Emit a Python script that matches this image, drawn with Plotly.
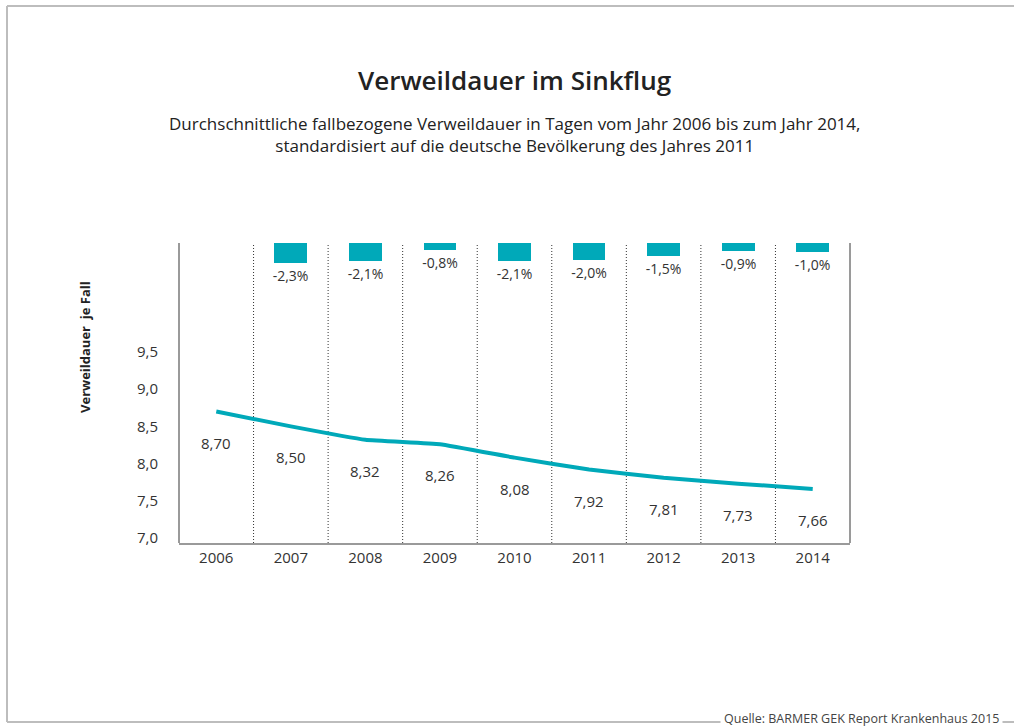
import plotly.graph_objects as go

# ---- data ----
years = [2006, 2007, 2008, 2009, 2010, 2011, 2012, 2013, 2014]
verweildauer = [8.70, 8.50, 8.32, 8.26, 8.08, 7.92, 7.81, 7.73, 7.66]
change_years = [2007, 2008, 2009, 2010, 2011, 2012, 2013, 2014]
change_pct = [-2.3, -2.1, -0.8, -2.1, -2.0, -1.5, -0.9, -1.0]
y_ticks = [7.0, 7.5, 8.0, 8.5, 9.0, 9.5]

title = "Verweildauer im Sinkflug"
subtitle = ("Durchschnittliche fallbezogene Verweildauer in Tagen vom Jahr 2006 bis zum Jahr 2014,"
            "<br>standardisiert auf die deutsche Bevölkerung des Jahres 2011")
y_title = "Verweildauer  je Fall"
source = "Quelle: BARMER GEK Report Krankenhaus 2015"

TEAL = "#00a9b9"
TXT = "#333333"
FONT = "Open Sans"

W, H = 1014, 728
L, R, T, B = 179, 164, 243, 185
PW, PH = W - L - R, H - T - B


def px_x(p):
    return (p - L) / PW


def px_y(p):
    return (H - B - p) / PH


def de(v, d):
    return f"{v:.{d}f}".replace(".", ",")


fig = go.Figure()

fig.add_trace(go.Scatter(
    x=years, y=verweildauer, mode="lines",
    line=dict(color=TEAL, width=4, shape="spline", smoothing=0.3),
    hoverinfo="skip", showlegend=False,
))

fig.add_trace(go.Bar(
    x=change_years, y=change_pct, yaxis="y2",
    marker=dict(color=TEAL, line=dict(width=0)),
    width=0.44,
    text=[de(v, 1) + "%" for v in change_pct],
    textposition="outside", constraintext="none", cliponaxis=False,
    textfont=dict(family=FONT, size=14, color=TXT),
    hoverinfo="skip", showlegend=False,
))

# value labels below the line
for xv, yv in zip(years, verweildauer):
    fig.add_annotation(x=xv, y=yv, text=de(yv, 2), showarrow=False,
                       yshift=-31, font=dict(family=FONT, size=15, color=TXT))

shapes = []
# dotted separators between years
for a, b in zip(years[:-1], years[1:]):
    shapes.append(dict(type="line", xref="x", yref="paper", x0=(a + b) / 2, x1=(a + b) / 2,
                       y0=0, y1=1, line=dict(color="#333333", width=1, dash="1px,2px"), layer="below"))
# plot frame left / right
for xp in (0, 1):
    shapes.append(dict(type="line", xref="paper", yref="paper", x0=xp, x1=xp, y0=0, y1=1,
                       line=dict(color="#9a9a9a", width=2)))
# outer page frame
fc = "#bdbdbd"
shapes.append(dict(type="line", xref="paper", yref="paper", x0=px_x(7), x1=px_x(1014),
                   y0=px_y(6), y1=px_y(6), line=dict(color=fc, width=2)))
shapes.append(dict(type="line", xref="paper", yref="paper", x0=px_x(7), x1=px_x(7),
                   y0=px_y(6), y1=px_y(722), line=dict(color=fc, width=2)))
shapes.append(dict(type="line", xref="paper", yref="paper", x0=px_x(7), x1=px_x(1014),
                   y0=px_y(722), y1=px_y(722), line=dict(color=fc, width=2)))
fig.update_layout(shapes=shapes)

# titles
fig.add_annotation(xref="paper", yref="paper", x=0.5, y=px_y(80), text=title, showarrow=False,
                   font=dict(family=FONT, size=26, color="#222222", weight=600),
                   xanchor="center", yanchor="middle")
fig.add_annotation(xref="paper", yref="paper", x=0.5, y=px_y(134), text=subtitle, showarrow=False,
                   font=dict(family=FONT, size=17, color="#222222"),
                   xanchor="center", yanchor="middle")
fig.add_annotation(xref="paper", yref="paper", x=px_x(85), y=px_y(347), text="<b>" + y_title + "</b>",
                   showarrow=False, textangle=-90,
                   font=dict(family=FONT, size=13, color="#222222"),
                   xanchor="center", yanchor="middle")
fig.add_annotation(xref="paper", yref="paper", x=px_x(1003), y=px_y(718), text=source,
                   showarrow=False, bgcolor="white", borderpad=3,
                   font=dict(family=FONT, size=12.5, color="#444444"),
                   xanchor="right", yanchor="middle")

y_lo = 7.0 - 5 / 74.4
y_hi = 7.0 + 295 / 74.4

fig.update_layout(
    width=W, height=H,
    margin=dict(l=L, r=R, t=T, b=B, autoexpand=False),
    paper_bgcolor="white", plot_bgcolor="white",
    separators=",.",
    font=dict(family=FONT, color=TXT),
    xaxis=dict(range=[years[0] - 0.5, years[-1] + 0.5], tickvals=years,
               ticktext=[str(y) for y in years], showgrid=False, zeroline=False,
               showline=True, linecolor="#9a9a9a", linewidth=2, ticks="",
               tickfont=dict(family=FONT, size=15, color=TXT), fixedrange=True),
    yaxis=dict(range=[y_lo, y_hi], tickvals=y_ticks, tickformat=".1f",
               showgrid=False, zeroline=False, showline=False, ticks="",
               ticklabelstandoff=20,
               tickfont=dict(family=FONT, size=15, color=TXT), fixedrange=True),
    yaxis2=dict(range=[-300 / 8.5, 0], overlaying="y", visible=False, fixedrange=True),
    bargap=0,
)

fig.write_html("out.html", config={"displayModeBar": False},
               post_script="document.body.style.margin='0';")
